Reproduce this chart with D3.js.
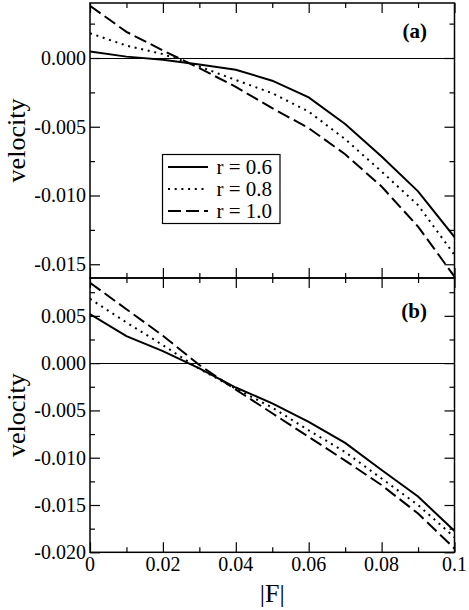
<!DOCTYPE html>
<html>
<head>
<meta charset="utf-8">
<script src="https://cdn.jsdelivr.net/npm/d3@7"></script>
<style>
  body { margin: 0; background: #fff; }
</style>
</head>
<body>
<div id="main"></div>
<script>
// data
const force = [0, 0.01, 0.02, 0.03, 0.04, 0.05, 0.06, 0.07, 0.08, 0.09, 0.1];
const seriesNames = ['r = 0.6', 'r = 0.8', 'r = 1.0'];

// panel (a)
const velA06 = [0.00047, 0.0001, -0.00013, -0.00047, -0.00085, -0.00165, -0.00287, -0.0048, -0.00717, -0.0097, -0.01302];
const velA08 = [0.0018, 0.0009, 0.00028, -0.00062, -0.0016, -0.00256, -0.0039, -0.0059, -0.00826, -0.0107, -0.01432];
const velA10 = [0.0038, 0.0019, 0.00055, -0.00074, -0.0021, -0.00365, -0.0051, -0.007, -0.00935, -0.01226, -0.0159];

// panel (b)
const velB06 = [0.00519, 0.00286, 0.00127, -0.00056, -0.00258, -0.00425, -0.0062, -0.00843, -0.0113, -0.0141, -0.01775];
const velB08 = [0.0068, 0.0043, 0.0019, -0.0006, -0.0027, -0.0047, -0.0071, -0.0094, -0.0122, -0.015, -0.0184];
const velB10 = [0.0085, 0.0057, 0.0029, -0.0002, -0.0028, -0.0053, -0.0078, -0.0103, -0.0129, -0.0159, -0.0196];

const xTicks = [0, 0.02, 0.04, 0.06, 0.08, 0.1];
const xTickLabels = ['0', '0.02', '0.04', '0.06', '0.08', '0.1'];
const xMinor = [0.01, 0.03, 0.05, 0.07, 0.09];
const yTicksA = [0, -0.005, -0.01, -0.015];
const yMinorA = [0.0025, -0.0025, -0.0075, -0.0125];
const yTicksB = [0.005, 0, -0.005, -0.01, -0.015, -0.02];
const yMinorB = [0.0075, 0.0025, -0.0025, -0.0075, -0.0125, -0.0175];

const serif = "'Liberation Serif', 'Times New Roman', Times, 'DejaVu Serif', serif";

// SVG container
const w = 469;
const h = 610;
const svg = d3
  .select('div#main')
  .append('svg')
  .attr('width', w)
  .attr('height', h)
  .style('font-family', serif);

const left = 90;
const right = 454.5;

const x = d3.scaleLinear().domain([0, 0.1]).range([left, right]);

// line styles: solid, dotted, dashed
const dashes = [null, '2,4.7', '13,5'];

const panels = [
  { label: '(a)', labelY: 38, top: 3, bottom: 278, domain: [-0.016, 0.004], series: [velA06, velA08, velA10], ticks: yTicksA, minor: yMinorA },
  { label: '(b)', labelY: 318, top: 278, bottom: 552.3, domain: [-0.02, 0.009], series: [velB06, velB08, velB10], ticks: yTicksB, minor: yMinorB }
];

function addText(sel) {
  return sel.append('text').style('font-family', serif).attr('fill', '#000');
}

panels.forEach(function (p, pi) {
  const y = d3.scaleLinear().domain(p.domain).range([p.bottom, p.top]);
  const g = svg.append('g');

  // clip for the curves
  g.append('clipPath')
    .attr('id', 'clip' + pi)
    .append('rect')
    .attr('x', left)
    .attr('y', p.top)
    .attr('width', right - left)
    .attr('height', p.bottom - p.top);

  // zero line
  g.append('line')
    .attr('x1', x(0))
    .attr('x2', x(0.1))
    .attr('y1', Math.round(y(0)) + 0.5)
    .attr('y2', Math.round(y(0)) + 0.5)
    .attr('stroke', '#000')
    .attr('stroke-width', 1.2);

  // curves
  const line = d3
    .line()
    .x((d, i) => x(force[i]))
    .y(d => y(d));

  p.series.forEach(function (vals, si) {
    g.append('path')
      .datum(vals)
      .attr('d', line)
      .attr('fill', 'none')
      .attr('stroke', '#000')
      .attr('stroke-width', 2)
      .attr('stroke-dasharray', dashes[si])
      .attr('clip-path', 'url(#clip' + pi + ')');
  });

  // axes: ticks pointing inward on all four sides
  const axes = [
    [d3.axisRight(y).tickValues(p.ticks).tickSize(10), `translate(${left},0)`],
    [d3.axisRight(y).tickValues(p.minor).tickSize(5), `translate(${left},0)`],
    [d3.axisLeft(y).tickValues(p.ticks).tickSize(10), `translate(${right},0)`],
    [d3.axisLeft(y).tickValues(p.minor).tickSize(5), `translate(${right},0)`],
    [d3.axisBottom(x).tickValues(xTicks).tickSize(10), `translate(0,${p.top})`],
    [d3.axisBottom(x).tickValues(xMinor).tickSize(5), `translate(0,${p.top})`],
    [d3.axisTop(x).tickValues(xTicks).tickSize(10), `translate(0,${p.bottom})`],
    [d3.axisTop(x).tickValues(xMinor).tickSize(5), `translate(0,${p.bottom})`]
  ];
  axes.forEach(function (a) {
    const ag = g.append('g').attr('transform', a[1]).call(a[0].tickFormat(''));
    ag.select('.domain').remove();
    ag.selectAll('.tick line').attr('stroke', '#000').attr('stroke-width', 1.2);
  });

  // frame
  g.append('rect')
    .attr('x', left)
    .attr('y', p.top)
    .attr('width', right - left)
    .attr('height', p.bottom - p.top)
    .attr('fill', 'none')
    .attr('stroke', '#000')
    .attr('stroke-width', 1.5);

  // y tick labels
  p.ticks.forEach(function (d) {
    addText(g)
      .attr('x', left - 4)
      .attr('y', y(d))
      .attr('dy', '0.34em')
      .attr('text-anchor', 'end')
      .style('font-size', '20px')
      .text(d3.format('.3f')(d).replace('−', '-'));
  });

  // y axis title
  addText(g)
    .attr('transform', `translate(25,${(p.top + p.bottom) / 2}) rotate(-90)`)
    .attr('text-anchor', 'middle')
    .style('font-size', '26px')
    .text('velocity');

  // panel label
  addText(g)
    .attr('x', 427)
    .attr('y', p.labelY)
    .attr('text-anchor', 'end')
    .style('font-size', '21px')
    .style('font-weight', 'bold')
    .text(p.label);

  // x tick labels only on the lower panel
  if (pi === 1) {
    xTicks.forEach(function (d, i) {
      addText(g)
        .attr('x', x(d))
        .attr('y', p.bottom + 19)
        .attr('text-anchor', 'middle')
        .style('font-size', '20px')
        .text(xTickLabels[i]);
    });

    addText(g)
      .attr('x', x(0.05))
      .attr('y', 602)
      .attr('text-anchor', 'middle')
      .style('font-size', '26px')
      .text('|F|');
  }
});

// legend in panel (a)
const legend = svg.append('g');
legend
  .append('rect')
  .attr('x', 162.5)
  .attr('y', 154.5)
  .attr('width', 117.5)
  .attr('height', 69)
  .attr('fill', '#fff')
  .attr('stroke', '#000')
  .attr('stroke-width', 1.2);

seriesNames.forEach(function (name, i) {
  const ly = 167 + i * 22;
  legend
    .append('line')
    .attr('x1', 168)
    .attr('x2', 208)
    .attr('y1', ly)
    .attr('y2', ly)
    .attr('stroke', '#000')
    .attr('stroke-width', 2)
    .attr('stroke-dasharray', dashes[i]);
  addText(legend)
    .attr('x', 216.5)
    .attr('y', ly + 7)
    .style('font-size', '21px')
    .text(name);
});
</script>
</body>
</html>
